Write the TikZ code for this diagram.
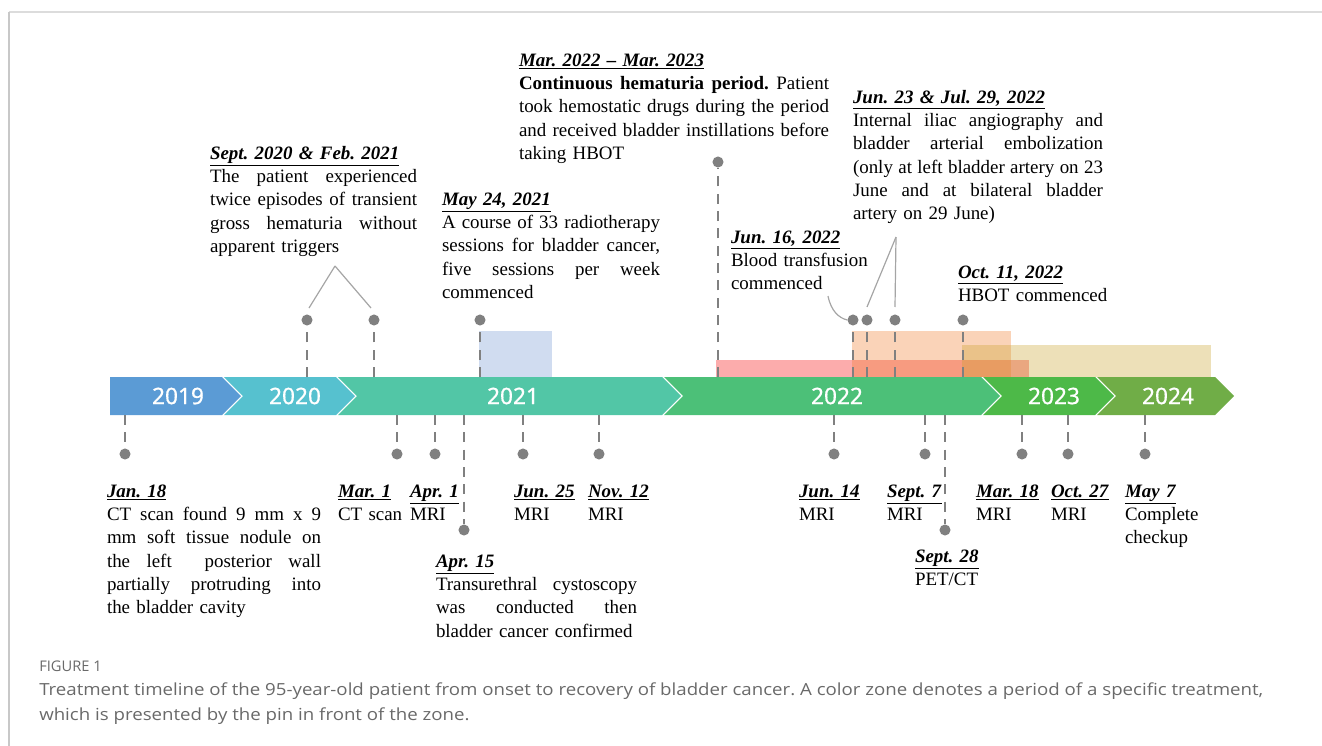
\documentclass[tikz,border=0pt]{standalone}
\usepackage{fontspec}
\setmainfont{Liberation Serif}
\newfontfamily\yearfont[FakeBold=0.7]{Noto Sans}
\newfontfamily\capfont{Open Sans}
\usetikzlibrary{calc}
\definecolor{c19}{RGB}{91,155,213}
\definecolor{c20}{RGB}{86,193,207}
\definecolor{c21}{RGB}{82,198,166}
\definecolor{c22}{RGB}{76,192,120}
\definecolor{c23}{RGB}{77,185,72}
\definecolor{c24}{RGB}{112,173,71}
\definecolor{pingray}{RGB}{128,128,128}
\definecolor{linegray}{RGB}{165,165,165}
\definecolor{capgray}{RGB}{105,105,105}
\definecolor{zblue}{RGB}{68,114,196}
\definecolor{zred}{RGB}{248,70,70}
\definecolor{zpeach}{RGB}{240,120,40}
\definecolor{ztan}{RGB}{200,160,40}
\frenchspacing
\newcommand\hd[1]{\underline{\textbf{\textit{#1}}}}
\newcommand\jl[2]{\leavevmode\hbox to #1{\spaceskip=0pt\xspaceskip=0pt\relax #2}}
\newlength\capw
\begin{document}
\settowidth\capw{\capfont\fontsize{12.5}{15}\selectfont Treatment timeline of the 95-year-old patient from onset to recovery of bladder cancer. A color zone denotes a period of a specific treatment,}%
\pgfmathsetmacro\capsc{918/\capw}%
\begin{tikzpicture}[x=0.75pt,y=-0.75pt,
  txt/.style={anchor=base west, inner sep=0pt, outer sep=0pt, align=left,
    font=\fontsize{14.2}{17.5}\selectfont\frenchspacing, text width=#1},
  txt/.default=150pt,
  yr/.style={text=white, font=\yearfont\fontsize{17}{18}\selectfont, inner sep=0pt},
  dot/.style={circle, fill=pingray, inner sep=0pt, minimum size=8.3pt},
  pin/.style={draw=pingray, line width=1.9pt, dash pattern=on 7.5pt off 5.5pt},
  conn/.style={draw=linegray, line width=0.9pt},
  zone/.style={fill=#1, fill opacity=0.33, draw=none}]
\useasboundingbox (0,0) rectangle (1322,746);
% frame
\draw[draw={rgb,255:red,220;green,220;blue,220}, line width=1.5pt] (9,12) -- (1322,12);
\draw[draw={rgb,255:red,200;green,200;blue,200}, line width=0.8pt] (9,12) -- (9,746);

% zones
\fill[fill=zblue, fill opacity=0.25] (479,331) rectangle (552,377);
\fill[zone=zred, fill opacity=0.45] (716,360) rectangle (1029,377);
\fill[zone=zpeach] (852,331) rectangle (1011,377);
\fill[zone=ztan] (962,345) rectangle (1211,377);

% bar segments
\fill[c19] (110,377) -- (222,377) -- (241,396) -- (222,415) -- (110,415) -- cycle;
\fill[c20] (224,377) -- (336,377) -- (355,396) -- (336,415) -- (224,415) -- (243,396) -- cycle;
\fill[c21] (338,377) -- (662,377) -- (681,396) -- (662,415) -- (338,415) -- (357,396) -- cycle;
\fill[c22] (664,377) -- (981,377) -- (1000,396) -- (981,415) -- (664,415) -- (683,396) -- cycle;
\fill[c23] (983,377) -- (1095,377) -- (1114,396) -- (1095,415) -- (983,415) -- (1002,396) -- cycle;
\fill[c24] (1097,377) -- (1215,377) -- (1234,396) -- (1215,415) -- (1097,415) -- (1116,396) -- cycle;
\node[yr] (y19) at (178,396) {2019};
\node[yr] (y20) at (295,396) {2020};
\node[yr] (y21) at (513,396) {2021};
\node[yr] (y22) at (837,396) {2022};
\node[yr] (y23) at (1054,396) {2023};
\node[yr] (y24) at (1168,396) {2024};

% pins above
\foreach \n/\x in {sep/307, feb/374, may/480, j16/853, j23/867, j29/895, oct/963}{
  \node[dot] (\n) at (\x,320) {};
  \coordinate (\n b) at (\x,377);
  \draw[pin] (\n b) -- (\n);
}
\node[dot] (mar22) at (718,162) {};
\coordinate (mar22b) at (718,377);
\draw[pin] (mar22b) -- (mar22);
% pins below
\foreach \n/\x in {jan/125, mar1/397, apr1/435, jun25/523, nov12/599, jun14/834, sep7/925, mar18/1022, oct27/1068, may7/1145}{
  \node[dot] (\n) at (\x,454) {};
  \coordinate (\n b) at (\x,415);
  \draw[pin] (\n b) -- (\n);
}
\node[dot] (apr15) at (464,530) {};
\coordinate (apr15b) at (464,415);
\draw[pin] (apr15b) -- (apr15);
\node[dot] (sep28) at (945,530) {};
\coordinate (sep28b) at (945,415);
\draw[pin] (sep28b) -- (sep28);

% connectors
\coordinate (vA) at (335,266);
\coordinate (sepT) at (309,308);
\coordinate (febT) at (371,308);
\draw[conn] (vA) -- (sepT);
\draw[conn] (vA) -- (febT);
\coordinate (vB) at (896,237);
\coordinate (j23T) at (867,307);
\coordinate (j29T) at (895,307);
\draw[conn] (vB) -- (j23T);
\draw[conn] (vB) -- (j29T);
\coordinate (cS) at (828,296);
\draw[conn] (cS) .. controls (831,311) and (839,318) .. (j16.west);

% texts above
\node[txt=155.25pt] (t1) at (210,159) {\hd{Sept. 2020 \& Feb. 2021}\\
\jl{155.25pt}{The patient experienced}\\
\jl{155.25pt}{twice episodes of transient}\\
\jl{155.25pt}{gross hematuria without}\\
apparent triggers};
\node[txt=163.5pt] (t2) at (442,205) {\hd{May 24, 2021}\\
\jl{163.5pt}{A course of 33 radiotherapy}\\
\jl{163.5pt}{sessions for bladder cancer,}\\
\jl{163.5pt}{five sessions per week}\\
commenced};
\node[txt=232.5pt] (t3) at (519,66) {\hd{Mar. 2022 -- Mar. 2023}\\
\jl{232.5pt}{\textbf{Continuous hematuria period.} Patient}\\
\jl{232.5pt}{took hemostatic drugs during the period}\\
\jl{232.5pt}{and received bladder instillations before}\\
taking HBOT};
\node[txt=187.5pt] (t4) at (853,103) {\hd{Jun. 23 \& Jul. 29, 2022}\\
\jl{187.5pt}{Internal iliac angiography and}\\
\jl{187.5pt}{bladder arterial embolization}\\
\jl{187.5pt}{(only at left bladder artery on 23}\\
\jl{187.5pt}{June and at bilateral bladder}\\
artery on 29 June)};
\node[txt] (t5) at (731,243) {\hd{Jun. 16, 2022}\\Blood transfusion\\commenced};
\node[txt] (t6) at (958,278) {\hd{Oct. 11, 2022}\\HBOT commenced};

% texts below
\node[txt=160.5pt] (t7) at (107,497) {\hd{Jan. 18}\\
\jl{160.5pt}{CT scan found 9 mm x 9}\\
\jl{160.5pt}{mm soft tissue nodule on}\\
\jl{160.5pt}{the left \ posterior wall}\\
\jl{160.5pt}{partially protruding into}\\
the bladder cavity};
\node[txt=60pt] (t8) at (338,497) {\hd{Mar. 1}\\CT scan};
\node[txt=60pt] (t9) at (410,497) {\hd{Apr. 1}\\MRI};
\node[txt=150.75pt] (t10) at (436,567) {\hd{Apr. 15}\\
\jl{150.75pt}{Transurethral cystoscopy}\\
\jl{150.75pt}{was conducted then}\\
bladder cancer confirmed};
\node[txt=60pt] (t11) at (514,497) {\hd{Jun. 25}\\MRI};
\node[txt=60pt] (t12) at (588,497) {\hd{Nov. 12}\\MRI};
\node[txt=60pt] (t13) at (799,497) {\hd{Jun. 14}\\MRI};
\node[txt=60pt] (t14) at (887,497) {\hd{Sept. 7}\\MRI};
\node[txt=60pt] (t15) at (915,562) {\hd{Sept. 28}\\PET/CT};
\node[txt=60pt] (t16) at (976,497) {\hd{Mar. 18}\\MRI};
\node[txt=60pt] (t17) at (1051,497) {\hd{Oct. 27}\\MRI};
\node[txt=70pt] (t18) at (1125,497) {\hd{May 7}\\Complete\\checkup};

% caption
\node[anchor=base west, inner sep=0pt, text=capgray, font=\capfont\fontsize{11}{13}\selectfont] (fig) at (39,671) {FIGURE 1};
\node[anchor=base west, inner sep=0pt, text=capgray, font=\capfont\fontsize{12.5}{15}\selectfont] (cap1) at (39,695.5) {\scalebox{\capsc}[1]{Treatment timeline of the 95-year-old patient from onset to recovery of bladder cancer. A color zone denotes a period of a specific treatment,}};
\node[anchor=base west, inner sep=0pt, text=capgray, font=\capfont\fontsize{12.5}{15}\selectfont] (cap2) at (39,720.5) {\scalebox{\capsc}[1]{which is presented by the pin in front of the zone.}};
\end{tikzpicture}
\end{document}
